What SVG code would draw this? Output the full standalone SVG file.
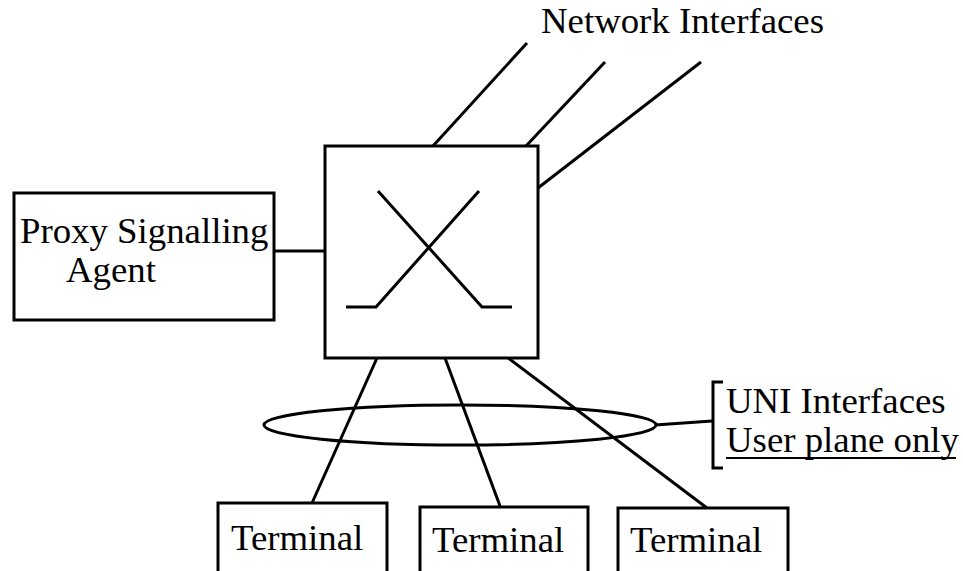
<svg xmlns="http://www.w3.org/2000/svg" width="963" height="571" viewBox="0 0 963 571">
  <style>
    .box { fill: #fff; stroke: #000; stroke-width: 3; }
    .ln { fill: none; stroke: #000; stroke-width: 3; }
    .lbl { font-family: "Liberation Serif", "Times New Roman", serif; font-size: 36.8px; fill: #000; }
  </style>
  <rect width="963" height="571" fill="#fff"/>

  <g id="connectors">
    <!-- network interfaces -->
    <line class="ln" x1="527" y1="43" x2="433" y2="146"/>
    <line class="ln" x1="605" y1="62" x2="526" y2="146"/>
    <line class="ln" x1="701" y1="62" x2="538" y2="188"/>
    <!-- proxy link -->
    <line class="ln" x1="274" y1="251" x2="325" y2="251"/>
    <!-- UNI links -->
    <line class="ln" x1="377" y1="358" x2="312" y2="503"/>
    <line class="ln" x1="445" y1="358" x2="500" y2="506"/>
    <line class="ln" x1="507" y1="357" x2="707" y2="508"/>
    <!-- UNI bundle -->
    <ellipse class="ln" cx="460" cy="425" rx="196" ry="20"/>
    <line class="ln" x1="655" y1="425" x2="712" y2="421"/>
  </g>

  <g id="switch">
    <rect class="box" x="325" y="146" width="213" height="212"/>
    <polyline class="ln" points="378,191 482,307 512,307"/>
    <polyline class="ln" points="479,191 376,307 346,307"/>
  </g>

  <g id="proxy">
    <rect class="box" x="14" y="193" width="260" height="127"/>
    <text class="lbl" x="20" y="243">Proxy Signalling</text>
    <text class="lbl" x="66" y="282">Agent</text>
  </g>

  <g id="network-label">
    <text class="lbl" x="541" y="33">Network Interfaces</text>
  </g>

  <g id="uni-label">
    <polyline class="ln" points="723,382 713,382 713,468 723,468"/>
    <text class="lbl" x="726" y="413">UNI Interfaces</text>
    <text class="lbl" x="726" y="452">User plane only</text>
    <line x1="726" y1="458" x2="956" y2="458" stroke="#000" stroke-width="2"/>
  </g>

  <g id="terminal-1">
    <rect class="box" x="218" y="503" width="169" height="90"/>
    <text class="lbl" x="231" y="550">Terminal</text>
  </g>
  <g id="terminal-2">
    <rect class="box" x="420" y="507" width="168" height="90"/>
    <text class="lbl" x="432" y="552">Terminal</text>
  </g>
  <g id="terminal-3">
    <rect class="box" x="618" y="508" width="170" height="90"/>
    <text class="lbl" x="630" y="552">Terminal</text>
  </g>
</svg>
